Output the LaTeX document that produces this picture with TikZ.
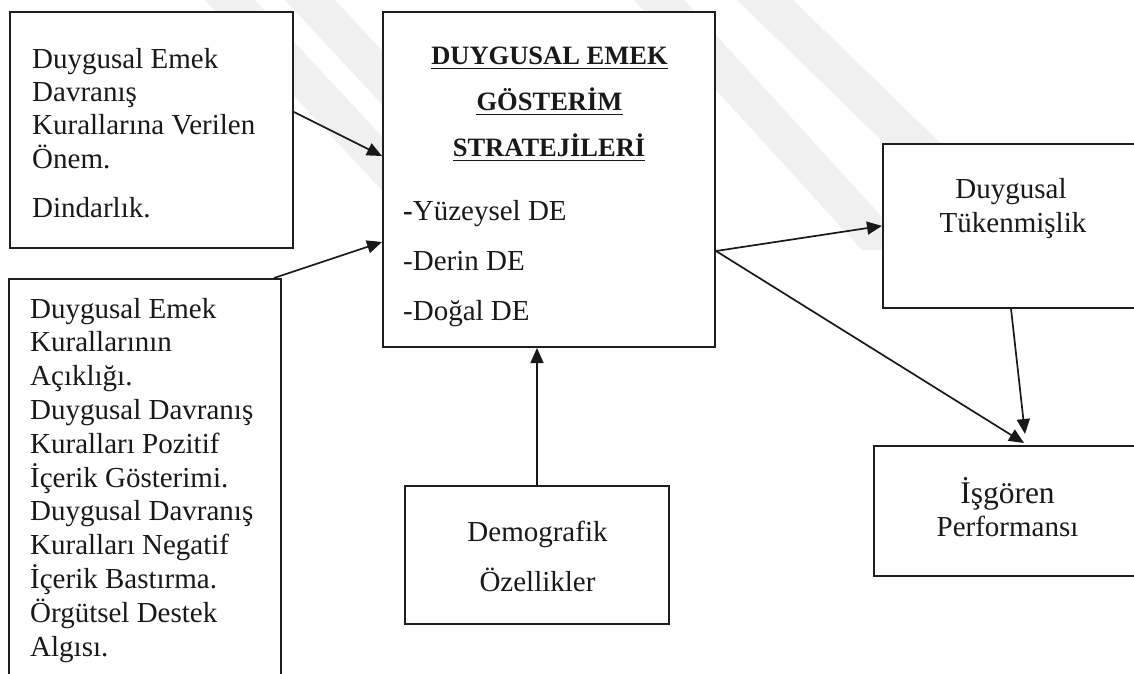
\documentclass[tikz,border=0pt]{standalone}
\usepackage{fontspec}
\setmainfont{Liberation Serif}
\usetikzlibrary{arrows.meta,calc}

\begin{document}
\begin{tikzpicture}[x=1pt,y=-1pt,
  box/.style={draw=black!88, line width=2pt, fill=white, rectangle, inner sep=0pt},
  link/.style={draw=black!90, line width=1.7pt, -{Triangle[length=15pt,width=13pt]}},
  txt/.style={inner sep=0pt, text=black!90, font=\fontsize{29}{34}\selectfont},
  head/.style={inner sep=0pt, anchor=base, text=black!90, font=\fontsize{26.5}{30}\selectfont\bfseries},
  wmark/.style={fill=black!6, draw=none}
]
\useasboundingbox (0,0) rectangle (1134,673);
\clip (0,0) rectangle (1134,673);
\fill[white] (0,0) rectangle (1134,673);

% faint background logo stripes
\fill[wmark] (205,0) -- (255,0) -- (534,300) -- (484,300) -- cycle;
\fill[wmark] (285,0) -- (335,0) -- (614,300) -- (564,300) -- cycle;
\fill[wmark] (634,0) -- (684,0) -- (912,250) -- (862,250) -- cycle;
\fill[wmark] (737,0) -- (793,0) -- (999,200) -- (943,200) -- cycle;

% boxes
\node[box, minimum width=283pt, minimum height=236pt] (A) at (151.5,130) {};
\node[box, minimum width=272pt, minimum height=421pt] (B) at (145,489.5) {};
\node[box, minimum width=332pt, minimum height=335pt] (C) at (549,179.5) {};
\node[box, minimum width=264pt, minimum height=138pt] (D) at (537,555) {};
\node[box, minimum width=277pt, minimum height=163.7pt] (E) at (1021.5,225.85) {};
\node[box, minimum width=286pt, minimum height=130pt] (F) at (1017,511) {};

% antecedents, upper box
\node[txt, anchor=base west] (a1) at (32,68) {Duygusal Emek};
\node[txt, anchor=base west] (a2) at (32,101) {Davranış};
\node[txt, anchor=base west] (a3) at (32,134.5) {Kurallarına Verilen};
\node[txt, anchor=base west] (a4) at (32,168) {Önem.};
\node[txt, anchor=base west] (a5) at (32,217) {Dindarlık.};

% antecedents, lower box
\foreach \t [count=\i] in {Duygusal Emek, Kurallarının, Açıklığı., Duygusal Davranış, Kuralları Pozitif, İçerik Gösterimi., Duygusal Davranış, Kuralları Negatif, İçerik Bastırma., Örgütsel Destek, Algısı.}
  \node[txt, anchor=base west] (b\i) at (30,{318+33.8*(\i-1)}) {\t};

% strategies
\node[head] (h1) at (549.5,64) {DUYGUSAL EMEK};
\node[head] (h2) at (549.5,110) {GÖSTERİM};
\node[head] (h3) at (549,156) {STRATEJİLERİ};
\foreach \h in {h1,h2,h3}
  \draw[line width=1.8pt, black!90] ([yshift=-4.5pt]\h.base west) -- ([yshift=-4.5pt]\h.base east);
\node[txt, anchor=base west] (c1) at (403,220) {\textbf{-}Yüzeysel DE};
\node[txt, anchor=base west] (c2) at (403,270.5) {-Derin DE};
\node[txt, anchor=base west] (c3) at (403,320.5) {-Doğal DE};

% demographics
\node[txt, anchor=base] (d1) at (537.5,541.7) {Demografik};
\node[txt, anchor=base] (d2) at (537.5,591) {Özellikler};

% outcomes
\node[txt, anchor=base] (e1) at (1011,198.3) {Duygusal};
\node[txt, anchor=base] (e2) at (1013,232.3) {Tükenmişlik};
\node[txt, anchor=base, font=\fontsize{31.5}{34}\selectfont] (f1) at (1007.5,503.3) {İşgören};
\node[txt, anchor=base] (f2) at (1007.5,536.7) {Performansı};

% connectors
\draw[link] ([yshift=18pt]A.east) -- ([yshift=23.5pt]C.west);
\draw[link] ([xshift=-8pt]B.north east) -- ([yshift=-62.5pt]C.west);
\draw[link] ([yshift=-71.5pt]C.east) -- (E.west);
\draw[link] ([yshift=-71.5pt]C.east) -- ([xshift=151pt,yshift=2pt]F.north west);
\draw[link] ([xshift=-10.5pt]E.south) -- ([xshift=152pt,yshift=11pt]F.north west);
\draw[link] (D.north) -- ([xshift=-12pt]C.south);
\end{tikzpicture}
\end{document}
